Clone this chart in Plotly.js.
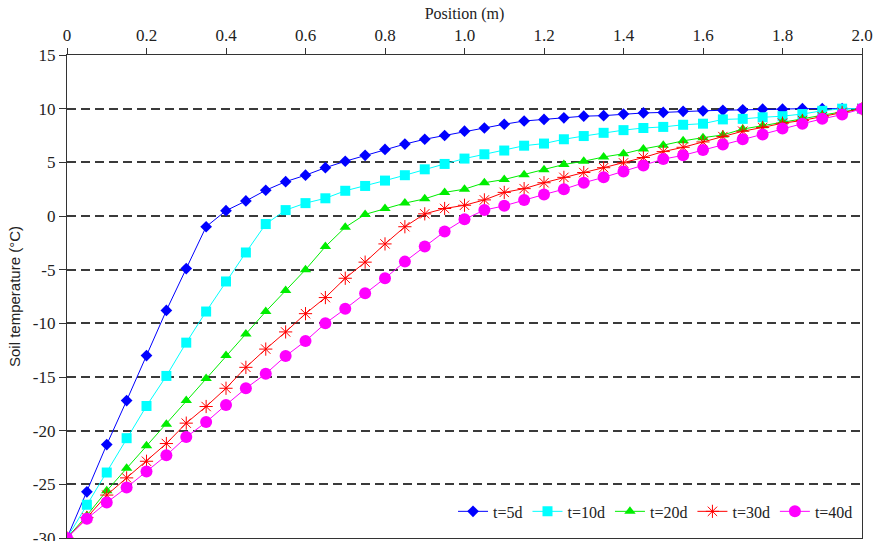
<!DOCTYPE html>
<html>
<head>
<meta charset="utf-8">
<script src="https://cdn.plot.ly/plotly-3.0.1.min.js"></script>
<style>
html,body{margin:0;padding:0;background:#fff;}
#chart{width:875px;height:541px;}
#chart svg text{font-family:"Liberation Serif","Times New Roman",serif !important;}
#chart svg text.ytitle{font-family:"Liberation Sans",Arial,sans-serif !important;}
#preload{position:absolute;left:-9999px;top:0;font-family:"Liberation Serif";font-size:17px;}
#preload2{position:absolute;left:-9999px;top:0;font-family:"Liberation Sans";font-size:15px;}
</style>
</head>
<body>
<div id="preload">0.2 -10 Position (m) t=5d</div>
<div id="preload2">Soil temperature (°C)</div>
<div id="chart"></div>
<script>
var position = [0,0.05,0.1,0.15,0.2,0.25,0.3,0.35,0.4,0.45,0.5,0.55,0.6,0.65,0.7,0.75,0.8,0.85,0.9,0.95,1.0,
  1.05,1.1,1.15,1.2,1.25,1.3,1.35,1.4,1.45,1.5,1.55,1.6,1.65,1.7,1.75,1.8,1.85,1.9,1.95,2.0];

var t5d = [-30,-25.7,-21.3,-17.2,-13.0,-8.8,-4.9,-1.0,0.5,1.4,2.4,3.2,3.8,4.5,5.1,5.65,6.2,6.7,7.15,7.5,7.9,
  8.2,8.55,8.85,9.0,9.15,9.3,9.35,9.5,9.6,9.65,9.75,9.8,9.85,9.9,9.95,9.95,10,10,10,10];
var t10d = [-30,-26.9,-23.9,-20.7,-17.7,-14.9,-11.8,-8.9,-6.1,-3.4,-0.75,0.55,1.2,1.65,2.35,2.8,3.3,3.8,4.35,4.85,5.35,
  5.75,6.1,6.55,6.75,7.15,7.45,7.75,8.0,8.2,8.3,8.5,8.6,9.0,9.05,9.2,9.3,9.5,9.8,10,10];
var t20d = [-30,-27.9,-25.6,-23.5,-21.4,-19.4,-17.2,-15.15,-13.0,-11.0,-8.9,-6.95,-5.0,-2.85,-1.05,0.15,0.7,1.2,1.6,2.2,2.5,
  3.1,3.4,3.85,4.3,4.8,5.1,5.5,5.8,6.25,6.6,7.0,7.3,7.55,8.1,8.4,8.75,9.05,9.4,9.7,10];
var t30d = [-30,-28.1,-26.0,-24.4,-22.85,-21.2,-19.3,-17.75,-16.05,-14.1,-12.4,-10.8,-9.1,-7.6,-5.8,-4.3,-2.6,-1.0,0.2,0.7,1.0,
  1.5,2.2,2.55,3.1,3.6,4.05,4.5,4.95,5.45,6.0,6.4,6.9,7.4,7.9,8.25,8.65,8.9,9.25,9.65,10];
var t40d = [-30,-28.2,-26.7,-25.3,-23.8,-22.3,-20.6,-19.2,-17.6,-16.05,-14.7,-13.05,-11.65,-10.0,-8.65,-7.2,-5.8,-4.25,-2.85,-1.45,-0.3,
  0.55,0.95,1.5,2.0,2.5,3.1,3.6,4.15,4.7,5.3,5.65,6.15,6.65,7.15,7.6,8.15,8.6,9.05,9.45,10];

var seriesNames = ['t=5d','t=10d','t=20d','t=30d','t=40d'];
var xTickVals = [0,0.2,0.4,0.6,0.8,1.0,1.2,1.4,1.6,1.8,2.0];
var xTickText = ['0','0.2','0.4','0.6','0.8','1.0','1.2','1.4','1.6','1.8','2.0'];
var yTickVals = [15,10,5,0,-5,-10,-15,-20,-25,-30];
var yTickText = ['15','10','5','0','-5','-10','-15','-20','-25','-30'];

var seriesData = [t5d,t10d,t20d,t30d,t40d];
var colors = ['#0000ff','#00ffff','#00ee00','#ff0000','#ff00ff'];
var symbols = ['diamond','square','triangle-up','asterisk-open','circle'];
var sizes = [9,10,10,11,12];

var traces = seriesData.map(function(d,i){
  return {
    x: position, y: d, name: seriesNames[i], type:'scatter', mode:'lines+markers',
    line:{color:colors[i], width:1},
    marker:{symbol:symbols[i], size:sizes[i], color:colors[i], line:{color:colors[i], width: symbols[i]==='asterisk-open'?1:0}}
  };
});

var layout = {
  width:875, height:541,
  margin:{l:67, r:13, t:55, b:3},
  font:{family:'Liberation Serif', size:17, color:'#222'},
  paper_bgcolor:'#fff', plot_bgcolor:'#fff',
  showlegend:true,
  legend:{orientation:'h', x:0.995, xanchor:'right', y:0.055, yanchor:'middle',
    font:{size:16}, bgcolor:'rgba(0,0,0,0)'},
  xaxis:{
    side:'top', range:[0,2.0], tickmode:'array', tickvals:xTickVals, ticktext:xTickText,
    ticks:'outside', ticklen:6, tickwidth:1.2, tickcolor:'#333',
    showline:true, linecolor:'#333', linewidth:1.3, mirror:true,
    showgrid:false, zeroline:false,
    tickfont:{size:17},
    title:{text:'Position (m)', font:{size:16}, standoff:2}
  },
  yaxis:{
    range:[-30,15], tickmode:'array', tickvals:yTickVals, ticktext:yTickText,
    ticks:'outside', ticklen:7, tickwidth:1.2, tickcolor:'#333',
    showline:true, linecolor:'#333', linewidth:1.3, mirror:true,
    showgrid:true, gridcolor:'#3a3a3a', gridwidth:1.5, griddash:'9px,5px',
    zeroline:false, ticklabeloverflow:'allow',
    tickfont:{size:17},
    title:{text:'Soil temperature (°C)', font:{family:'Liberation Sans', size:15}, standoff:8}
  }
};

Plotly.newPlot('chart', traces, layout, {displayModeBar:false});
</script>
</body>
</html>
